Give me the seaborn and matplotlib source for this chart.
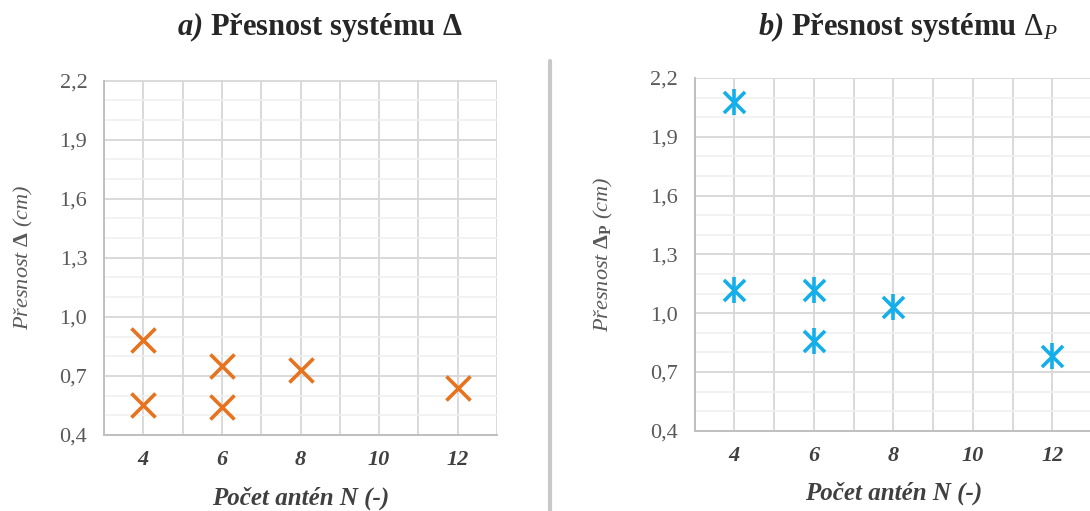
import matplotlib
matplotlib.use("Agg")
import matplotlib.pyplot as plt
from matplotlib.lines import Line2D
import seaborn as sns
import pandas as pd

# data
N_a = [4, 4, 6, 6, 8, 12]
delta_a = [0.88, 0.55, 0.75, 0.54, 0.73, 0.64]
N_b = [4, 4, 6, 6, 8, 12]
delta_b = [2.08, 1.12, 1.12, 0.86, 1.03, 0.78]

x_ticks = [4, 6, 8, 10, 12]
y_ticks = [0.4, 0.7, 1.0, 1.3, 1.6, 1.9, 2.2]
y_tick_labels = ['0,4', '0,7', '1,0', '1,3', '1,6', '1,9', '2,2']
titles = [r'$\mathbfit{a)}$ Přesnost systému Δ',
          r'$\mathbfit{b)}$ Přesnost systému $\Delta_P$']
y_labels = [r'Přesnost $\mathbf{\Delta}$ (cm)',
            r'Přesnost $\mathbf{\Delta_P}$ (cm)']
x_label = 'Počet antén N (-)'

sns.set_style("white")
plt.rcParams['font.family'] = ['Liberation Serif', 'DejaVu Serif']
plt.rcParams['mathtext.fontset'] = 'custom'
plt.rcParams['mathtext.rm'] = 'Liberation Serif'
plt.rcParams['mathtext.it'] = 'Liberation Serif:italic'
plt.rcParams['mathtext.bf'] = 'Liberation Serif:bold'
plt.rcParams['mathtext.bfit'] = 'Liberation Serif:italic:bold'

df_a = pd.DataFrame({'N': N_a, 'delta': delta_a})
df_b = pd.DataFrame({'N': N_b, 'delta': delta_b})

fig = plt.figure(figsize=(10.9, 5.11), dpi=100)
ax1 = fig.add_axes([104/1090, 76/511, 393/1090, 354.5/511])
ax2 = fig.add_axes([694.5/1090, 80.3/511, 397.5/1090, 352.7/511])

orange = '#E8731E'
blue = '#14AFEA'

sns.scatterplot(data=df_a, x='N', y='delta', ax=ax1, marker='x', s=300,
                color=orange, linewidth=2.6, zorder=3)
# asterisk = x + vertical bar
sns.scatterplot(data=df_b, x='N', y='delta', ax=ax2, marker='x', s=230,
                color=blue, linewidth=2.6, zorder=3)
sns.scatterplot(data=df_b, x='N', y='delta', ax=ax2, marker='|', s=330,
                color=blue, linewidth=2.6, zorder=3)

for ax, yl in zip([ax1, ax2], y_labels):
    ax.set_xlim(3, 13)
    ax.set_ylim(0.4, 2.2)
    ax.set_axisbelow(True)
    # minor grid every 0.1, major every 0.3, vertical every 1
    ax.set_yticks([0.4 + 0.1*i for i in range(19)], minor=True)
    ax.set_xticks(range(3, 14), minor=True)
    ax.grid(which='minor', axis='y', color='#f0f0f0', lw=1.2)
    ax.grid(which='both', axis='x', color='#d9d9d9', lw=1.4)
    ax.grid(which='major', axis='y', color='#d9d9d9', lw=1.4)
    ax.set_xticks(x_ticks)
    ax.set_yticks(y_ticks)
    ax.set_yticklabels(y_tick_labels)
    ax.tick_params(which='both', length=0)
    ax.tick_params(axis='y', pad=12, labelsize=16, labelcolor='#595959')
    ax.tick_params(axis='x', pad=11, labelsize=16, labelcolor='#404040')
    for lab in ax.get_xticklabels():
        lab.set_fontweight('bold')
        lab.set_fontstyle('italic')
    for side in ['top', 'right']:
        ax.spines[side].set_visible(False)
    for side in ['left', 'bottom']:
        ax.spines[side].set_color('#bfbfbf')
        ax.spines[side].set_linewidth(1.4)
    ax.set_xlabel(x_label, fontsize=18, fontweight='bold', fontstyle='italic',
                  color='#404040')
    ax.set_ylabel(yl, fontsize=16, fontstyle='italic', color='#595959')
    ax.xaxis.set_label_coords(0.5, -0.145)

ax1.yaxis.set_label_coords(-0.176, 0.5)
ax2.yaxis.set_label_coords(-0.2, 0.5)

fig.text(320/1090, 1 - 27/511, titles[0], ha='center', va='center',
         fontsize=22, fontweight='bold')
fig.text(908/1090, 1 - 27/511, titles[1], ha='center', va='center',
         fontsize=22, fontweight='bold')

# separator between the two panels
fig.add_artist(Line2D([550/1090, 550/1090], [0, 1 - 61/511],
                      transform=fig.transFigure, color='#c8c8c8', lw=3))

fig.savefig('out.png', dpi=100)
